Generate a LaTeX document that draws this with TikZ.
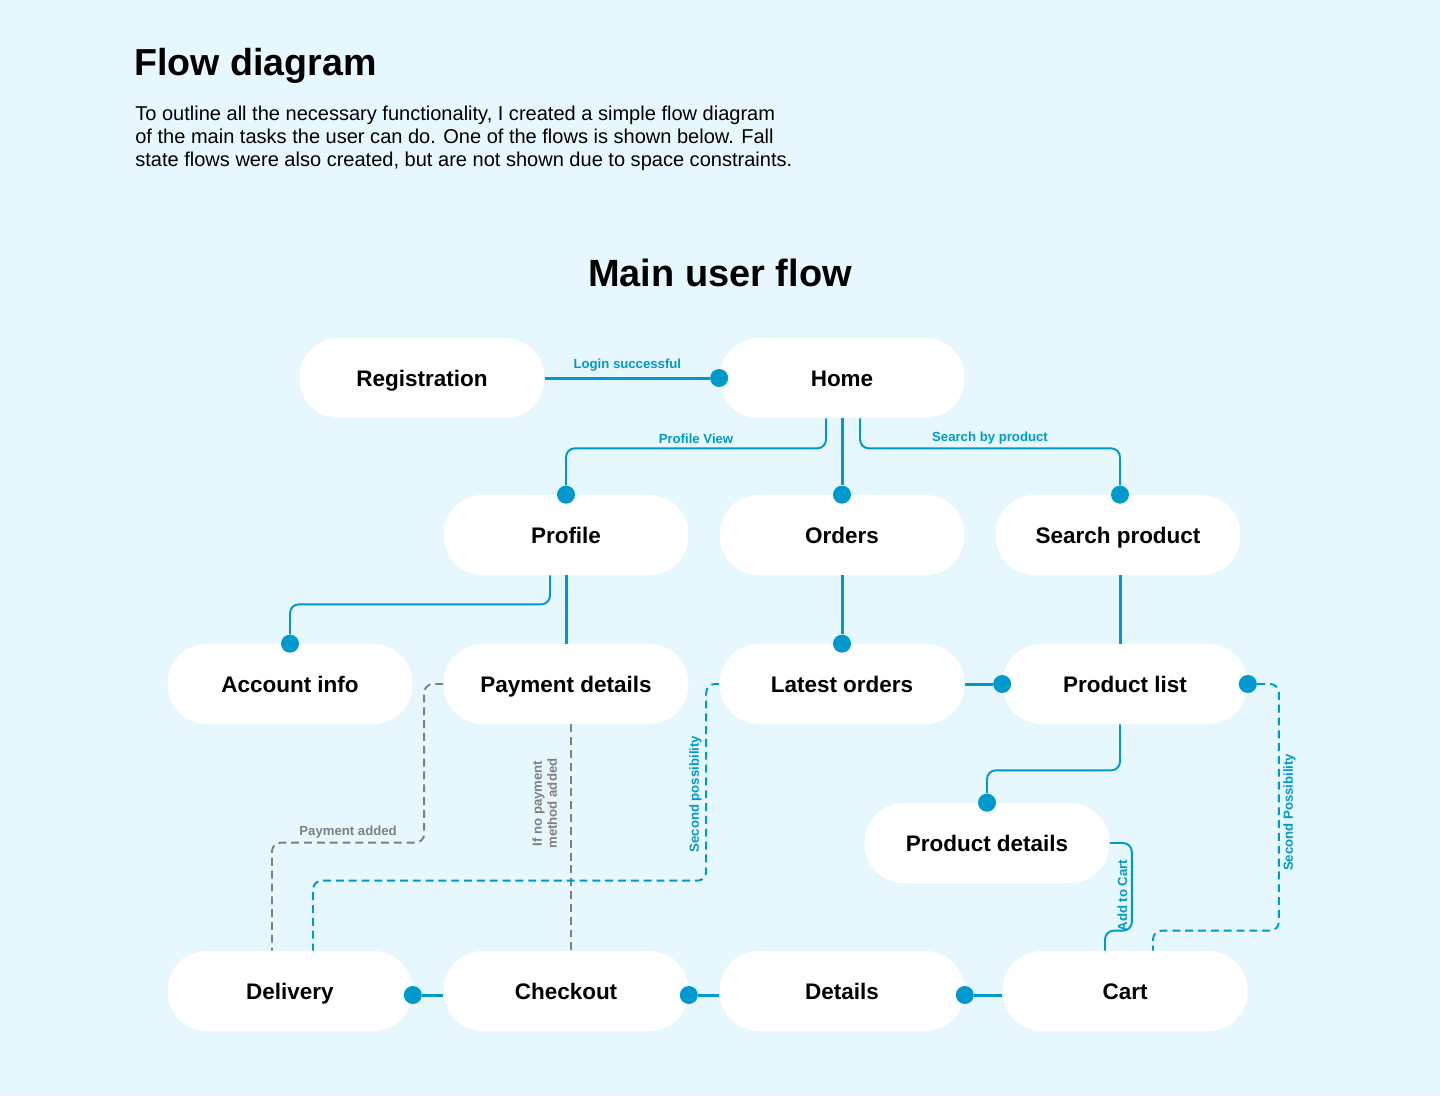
\documentclass[tikz,border=0pt]{standalone}
\usepackage{fontspec}
\setmainfont{Liberation Sans}
\usetikzlibrary{positioning,calc}
\definecolor{bgblue}{RGB}{230,247,254}
\definecolor{flowblue}{RGB}{0,153,206}
\definecolor{flowgray}{RGB}{128,128,128}
\tikzset{
  pill/.style={rectangle,fill=white,rounded corners=0.78cm,minimum width=4.9cm,minimum height=1.6cm,text height=9.2pt,text depth=0pt,align=center,font=\fontsize{12.8}{15}\selectfont\bfseries},
  dot/.style={circle,fill=flowblue,inner sep=0pt,minimum size=0.36cm},
  ln/.style={draw=flowblue,line width=1.1pt,rounded corners=5pt},
  lnb/.style={draw=flowblue,line width=1.7pt},
  dsh/.style={draw=flowblue,line width=1.1pt,dash pattern=on 4.5pt off 2.8pt,rounded corners=5pt},
  gdsh/.style={draw=flowgray,line width=1.1pt,dash pattern=on 4.5pt off 2.8pt,rounded corners=5pt},
  lbl/.style={font=\fontsize{7.5}{9}\selectfont\bfseries,text=flowblue,inner sep=2pt},
  glbl/.style={font=\fontsize{7.5}{8.5}\selectfont\bfseries,text=flowgray,inner sep=2pt,align=center},
}

\begin{document}
\begin{tikzpicture}[x=0.02cm,y=-0.02cm]
  \fill[bgblue] (0,0) rectangle (1440,1096);
  % heading
  \node[anchor=base west,inner sep=0,font=\fontsize{21.4}{26}\selectfont\bfseries] (title) at (134,75) {Flow diagram};
  \node[anchor=north west,inner sep=0,align=left,font=\fontsize{11.4}{13}\selectfont] (intro) at (135,106) {To outline all the necessary functionality, I created a simple flow diagram\\of the main tasks the user can do. One of the flows is shown below. Fall\\state flows were also created, but are not shown due to space constraints.};
  \node[font=\fontsize{21.6}{26}\selectfont\bfseries] (main) at (720,273) {Main user flow};
  % screens
  \node[pill] (reg) at (422,378) {Registration};
  \node[pill] (home) at (842,378) {Home};
  \node[pill] (profile) at (566,535) {Profile};
  \node[pill] (orders) at (842,535) {Orders};
  \node[pill] (search) at (1118,535) {Search product};
  \node[pill] (acc) at (290,684) {Account info};
  \node[pill] (pay) at (566,684) {Payment details};
  \node[pill] (latest) at (842,684) {Latest orders};
  \node[pill] (plist) at (1125,684) {Product list};
  \node[pill] (pdet) at (987,843) {Product details};
  \node[pill] (delivery) at (290,991) {Delivery};
  \node[pill] (checkout) at (566,991) {Checkout};
  \node[pill] (details) at (842,991) {Details};
  \node[pill] (cart) at (1125,991) {Cart};
  % end dots
  \node[dot] (dhome) at (home.west) {};
  \node[dot] (dprof) at (profile.north) {};
  \node[dot] (dord) at (orders.north) {};
  \node[dot] (dsearch) at ($(search.north)+(2,0)$) {};
  \node[dot] (dacc) at (acc.north) {};
  \node[dot] (dlatest) at (latest.north) {};
  \node[dot] (dplist) at (plist.west) {};
  \node[dot] (dplist2) at (plist.east) {};
  \node[dot] (dpdet) at (pdet.north) {};
  \node[dot] (ddel) at ($(delivery.east)+(0,4)$) {};
  \node[dot] (dchk) at ($(checkout.east)+(0,4)$) {};
  \node[dot] (ddet) at ($(details.east)+(0,4)$) {};
  % connectors
  \draw[lnb] (reg.east) -- node[lbl,midway,above=1pt] {Login successful} (dhome);
  \draw[ln] ($(home.south)+(-16,0)$) -- ++(0,30) -| node[lbl,pos=0.25,above] {Profile View} (dprof);
  \draw[lnb] (home.south) -- (dord);
  \draw[ln] ($(home.south)+(18,0)$) -- ++(0,30) -| node[lbl,pos=0.25,above] {Search by product} (dsearch);
  \draw[ln] ($(profile.south)+(-16,0)$) -- ++(0,29) -| (dacc);
  \draw[lnb] (profile.south) -- (pay.north);
  \draw[lnb] (orders.south) -- (dlatest);
  \draw[lnb] (dsearch |- search.south) -- (dsearch |- plist.north);
  \draw[lnb] (latest.east) -- (dplist);
  \draw[ln] ($(plist.south)+(-5,0)$) -- ++(0,46) -| (dpdet);
  \draw[ln] (pdet.east) -- ++(22,0) |- node[lbl,pos=0.3,rotate=90,anchor=south] {Add to Cart} ($(cart.north)+(-20,-20)$) -- ($(cart.north)+(-20,0)$);
  \draw[dsh] (dplist2) -- ++(31,0) |- node[lbl,pos=0.26,rotate=90,anchor=north] {Second Possibility} ($(cart.north)+(28,-20)$) -- ($(cart.north)+(28,0)$);
  \draw[gdsh] (pay.west) -- ++(-19,0) |- node[glbl,pos=0.75,above] {Payment added} ($(delivery.north)+(-18,-108)$) -- ($(delivery.north)+(-18,0)$);
  \draw[gdsh] ($(pay.south)+(5,0)$) -- node[glbl,pos=0.35,rotate=90,anchor=south,outer sep=6pt] {If no payment\\method added} ($(checkout.north)+(5,0)$);
  \draw[dsh] (latest.west) -- ++(-13,0) |- node[lbl,pos=0.28,rotate=90,anchor=south] {Second possibility} ($(delivery.north)+(23,-70)$) -- ($(delivery.north)+(23,0)$);
  \draw[lnb] (ddet) -- (cart.west |- ddet);
  \draw[lnb] (dchk) -- (details.west |- dchk);
  \draw[lnb] (ddel) -- (checkout.west |- ddel);
\end{tikzpicture}
\end{document}
